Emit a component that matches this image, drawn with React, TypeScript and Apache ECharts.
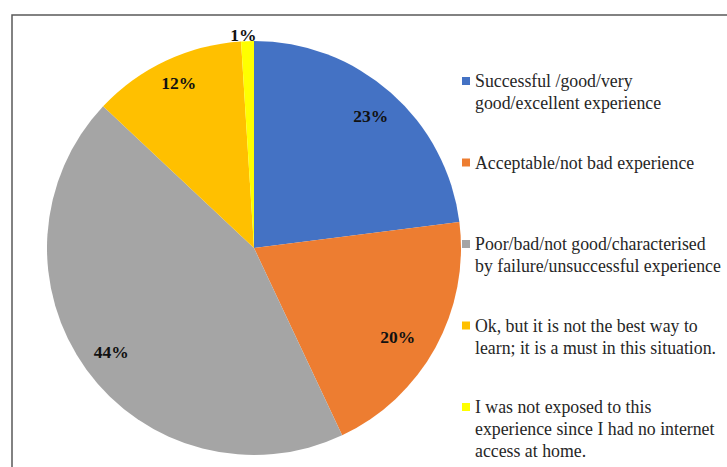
import React, { useEffect, useRef } from "react";
import * as echarts from "echarts";

const categories = [
  "Successful /good/very good/excellent experience",
  "Acceptable/not bad experience",
  "Poor/bad/not good/characterised by failure/unsuccessful experience",
  "Ok, but it is not the best way to learn; it is a must in this situation.",
  "I was not exposed to this experience since I had no internet access at home.",
];
const legendLines = [
  ["Successful /good/very", "good/excellent experience"],
  ["Acceptable/not bad experience"],
  ["Poor/bad/not good/characterised", "by failure/unsuccessful experience"],
  ["Ok, but it is not the best way to", "learn; it is a must in this situation."],
  ["I was not exposed to this", "experience since I had no internet", "access at home."],
];
const values = [23, 20, 44, 12, 1];
const colors = ["#4472C4", "#ED7D31", "#A5A5A5", "#FFC000", "#FFFF00"];

const FONT = "'Liberation Serif', 'Times New Roman', serif";

export default function App() {
  const ref = useRef<HTMLDivElement>(null);
  useEffect(() => {
    if (!ref.current) return;
    const chart = echarts.init(ref.current, null, { renderer: "svg" });
    const LH = 22;
    const FS = 17.8;
    const legends = categories.map((name, i) => {
      const lines = legendLines[i];
      const n = lines.length;
      // blank lines so that the first text line sits at the icon's centre
      const all = ["", "", ...lines];
      for (let k = 0; k < 3 - n; k++) all.push("");
      return {
        data: [name],
        orient: "vertical",
        left: 462,
        top: 26 + i * 81.5,
        padding: 0,
        itemWidth: 8,
        itemHeight: 8,
        icon: "rect",
        selectedMode: false,
        formatter: () => all.map((l) => `{t|${l === "" ? " " : l}}`).join("\n"),
        textStyle: {
          fontFamily: FONT,
          fontSize: FS,
          lineHeight: LH,
          color: "#262626",
          rich: {
            t: {
              fontFamily: FONT,
              fontSize: FS,
              lineHeight: LH,
              color: "#262626",
            },
          },
        },
      };
    });
    const labelShift: Record<number, { dx?: number; dy?: number }> = {
      1: { dx: -11, dy: 4 },
      3: { dy: -5 },
      4: { dx: 14, dy: -3 },
    };
    chart.setOption({
      animation: false,
      textStyle: { fontFamily: FONT },
      graphic: [
        {
          type: "rect",
          shape: { x: 12, y: 15, width: 800, height: 600 },
          style: { fill: "none", stroke: "#595959", lineWidth: 1.5 },
          silent: true,
          z: -10,
        },
      ],
      legend: legends,
      series: [
        {
          type: "pie",
          center: [254, 248],
          radius: [0, 207],
          startAngle: 90,
          clockwise: true,
          avoidLabelOverlap: false,
          label: { show: false },
          labelLine: { show: false },
          data: categories.map((name, i) => ({
            name,
            value: values[i],
            itemStyle: { color: colors[i] },
          })),
        },
        {
          type: "pie",
          center: [254, 248],
          radius: [140, 207],
          startAngle: 90,
          clockwise: true,
          silent: true,
          avoidLabelOverlap: false,
          itemStyle: { color: "rgba(0,0,0,0)" },
          label: {
            show: true,
            position: "inside",
            formatter: "{c}%",
            fontFamily: FONT,
            fontSize: 17.5,
            fontWeight: "bold",
            color: "#111",
          },
          labelLine: { show: false },
          labelLayout: (p: any) => labelShift[p.dataIndex] || {},
          data: categories.map((name, i) => ({
            name,
            value: values[i],
            ...(i === 4
              ? {
                  label: { position: "outside" },
                  labelLine: { show: false, length: 3, length2: 0 },
                }
              : {}),
          })),
        },
      ],
    });
    return () => chart.dispose();
  }, []);
  return (
    <div
      ref={ref}
      style={{ position: "fixed", left: 0, top: 0, width: 727, height: 467, background: "#fff" }}
    />
  );
}
